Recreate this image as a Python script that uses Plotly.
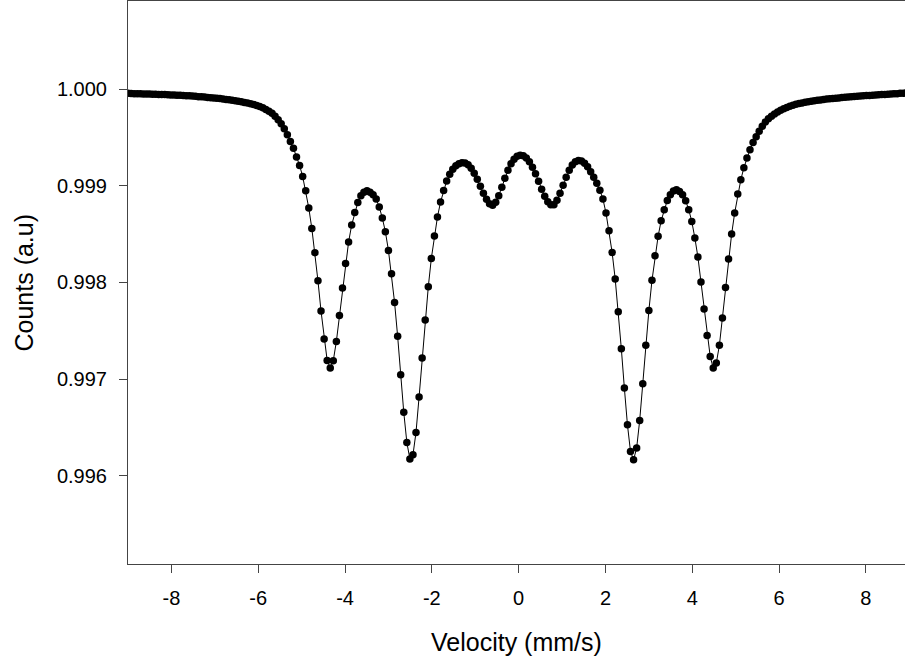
import plotly.graph_objects as go

# Velocity channels (mm/s)
velocity = [
    -9.000, -8.929, -8.859, -8.788, -8.718, -8.647, -8.576, -8.506, -8.435, -8.365, -8.294, -8.224, -8.153, -8.082, -8.012, -7.941, -7.871,
    -7.800, -7.729, -7.659, -7.588, -7.518, -7.447, -7.376, -7.306, -7.235, -7.165, -7.094, -7.024, -6.953, -6.882, -6.812, -6.741, -6.671,
    -6.600, -6.529, -6.459, -6.388, -6.318, -6.247, -6.176, -6.106, -6.035, -5.965, -5.894, -5.824, -5.753, -5.682, -5.612, -5.541, -5.471,
    -5.400, -5.329, -5.259, -5.188, -5.118, -5.047, -4.976, -4.906, -4.835, -4.765, -4.694, -4.624, -4.553, -4.482, -4.412, -4.341, -4.271,
    -4.200, -4.129, -4.059, -3.988, -3.918, -3.847, -3.776, -3.706, -3.635, -3.565, -3.494, -3.424, -3.353, -3.282, -3.212, -3.141, -3.071,
    -3.000, -2.929, -2.859, -2.788, -2.718, -2.647, -2.576, -2.506, -2.435, -2.365, -2.294, -2.224, -2.153, -2.082, -2.012, -1.941, -1.871,
    -1.800, -1.729, -1.659, -1.588, -1.518, -1.447, -1.376, -1.306, -1.235, -1.165, -1.094, -1.024, -0.953, -0.882, -0.812, -0.741, -0.671,
    -0.600, -0.529, -0.459, -0.388, -0.318, -0.247, -0.176, -0.106, -0.035, 0.035, 0.106, 0.176, 0.247, 0.318, 0.388, 0.459, 0.529,
    0.600, 0.671, 0.741, 0.812, 0.882, 0.953, 1.024, 1.094, 1.165, 1.235, 1.306, 1.376, 1.447, 1.518, 1.588, 1.659, 1.729,
    1.800, 1.871, 1.941, 2.012, 2.082, 2.153, 2.224, 2.294, 2.365, 2.435, 2.506, 2.576, 2.647, 2.718, 2.788, 2.859, 2.929,
    3.000, 3.071, 3.141, 3.212, 3.282, 3.353, 3.424, 3.494, 3.565, 3.635, 3.706, 3.776, 3.847, 3.918, 3.988, 4.059, 4.129,
    4.200, 4.271, 4.341, 4.412, 4.482, 4.553, 4.624, 4.694, 4.765, 4.835, 4.906, 4.976, 5.047, 5.118, 5.188, 5.259, 5.329,
    5.400, 5.471, 5.541, 5.612, 5.682, 5.753, 5.824, 5.894, 5.965, 6.035, 6.106, 6.176, 6.247, 6.318, 6.388, 6.459, 6.529,
    6.600, 6.671, 6.741, 6.812, 6.882, 6.953, 7.024, 7.094, 7.165, 7.235, 7.306, 7.376, 7.447, 7.518, 7.588, 7.659, 7.729,
    7.800, 7.871, 7.941, 8.012, 8.082, 8.153, 8.224, 8.294, 8.365, 8.435, 8.506, 8.576, 8.647, 8.718, 8.788, 8.859, 8.929,
    9.000,
]

# Counts (a.u.)
counts = [
    0.999955, 0.999953, 0.999952, 0.999951, 0.999950, 0.999949, 0.999948, 0.999947, 0.999946, 0.999945,
    0.999944, 0.999943, 0.999942, 0.999941, 0.999939, 0.999938, 0.999936, 0.999935, 0.999933, 0.999931,
    0.999929, 0.999927, 0.999925, 0.999921, 0.999919, 0.999916, 0.999913, 0.999910, 0.999907, 0.999904,
    0.999901, 0.999897, 0.999892, 0.999888, 0.999883, 0.999878, 0.999873, 0.999867, 0.999860, 0.999854,
    0.999847, 0.999839, 0.999829, 0.999818, 0.999805, 0.999789, 0.999770, 0.999748, 0.999719, 0.999683,
    0.999641, 0.999589, 0.999527, 0.999458, 0.999386, 0.999297, 0.999210, 0.999096, 0.998948, 0.998769,
    0.998558, 0.998307, 0.998018, 0.997704, 0.997415, 0.997193, 0.997115, 0.997190, 0.997390, 0.997659,
    0.997942, 0.998196, 0.998418, 0.998594, 0.998724, 0.998827, 0.998897, 0.998931, 0.998948, 0.998931,
    0.998907, 0.998862, 0.998780, 0.998666, 0.998524, 0.998331, 0.998090, 0.997793, 0.997442, 0.997045,
    0.996656, 0.996345, 0.996174, 0.996218, 0.996449, 0.996815, 0.997218, 0.997611, 0.997956, 0.998248,
    0.998480, 0.998676, 0.998831, 0.998951, 0.999049, 0.999119, 0.999171, 0.999207, 0.999228, 0.999238,
    0.999235, 0.999217, 0.999181, 0.999129, 0.999067, 0.998995, 0.998922, 0.998860, 0.998814, 0.998798,
    0.998829, 0.998897, 0.998984, 0.999078, 0.999160, 0.999228, 0.999274, 0.999305, 0.999315, 0.999310,
    0.999286, 0.999248, 0.999191, 0.999124, 0.999047, 0.998964, 0.998891, 0.998835, 0.998804, 0.998804,
    0.998850, 0.998922, 0.999005, 0.999088, 0.999160, 0.999214, 0.999248, 0.999261, 0.999255, 0.999233,
    0.999196, 0.999145, 0.999088, 0.999026, 0.998953, 0.998862, 0.998718, 0.998535, 0.998310, 0.998035,
    0.997697, 0.997314, 0.996908, 0.996528, 0.996252, 0.996166, 0.996287, 0.996573, 0.996952, 0.997349,
    0.997710, 0.998021, 0.998276, 0.998476, 0.998638, 0.998752, 0.998848, 0.998907, 0.998945, 0.998959,
    0.998941, 0.998907, 0.998845, 0.998752, 0.998631, 0.998459, 0.998263, 0.998004, 0.997725, 0.997452,
    0.997235, 0.997115, 0.997166, 0.997349, 0.997632, 0.997948, 0.998242, 0.998500, 0.998718, 0.998914,
    0.999062, 0.999186, 0.999286, 0.999372, 0.999448, 0.999507, 0.999564, 0.999615, 0.999659, 0.999693,
    0.999719, 0.999741, 0.999762, 0.999780, 0.999795, 0.999809, 0.999821, 0.999831, 0.999841, 0.999849,
    0.999856, 0.999862, 0.999869, 0.999874, 0.999879, 0.999883, 0.999887, 0.999891, 0.999896, 0.999899,
    0.999902, 0.999905, 0.999908, 0.999911, 0.999914, 0.999917, 0.999919, 0.999922, 0.999925, 0.999927,
    0.999930, 0.999932, 0.999934, 0.999936, 0.999938, 0.999940, 0.999942, 0.999944, 0.999946, 0.999948,
    0.999950, 0.999952, 0.999955, 0.999957, 0.999959, 0.999961,
]

x_ticks = [-8, -6, -4, -2, 0, 2, 4, 6, 8]
x_tick_labels = ["-8", "-6", "-4", "-2", "0", "2", "4", "6", "8"]
y_ticks = [0.996, 0.997, 0.998, 0.999, 1.000]
y_tick_labels = ["0.996", "0.997", "0.998", "0.999", "1.000"]

FONT = "Liberation Sans, Arial, Helvetica, sans-serif"
AXIS_COLOR = "#444444"

fig = go.Figure()
fig.add_trace(go.Scatter(
    x=velocity, y=counts,
    mode="lines+markers",
    line=dict(color="black", width=1),
    marker=dict(color="black", size=7.5, line=dict(width=0)),
    showlegend=False,
))

fig.update_layout(
    width=905, height=667,
    margin=dict(l=128, r=0, t=1, b=103, pad=0),
    paper_bgcolor="white", plot_bgcolor="white",
    font=dict(family=FONT, color="black"),
    xaxis=dict(
        range=[-9, 8.9],
        tickvals=x_ticks, ticktext=x_tick_labels,
        showgrid=False, zeroline=False,
        showline=True, linecolor=AXIS_COLOR, linewidth=1, mirror=True,
        ticks="outside", ticklen=8, tickcolor=AXIS_COLOR, tickwidth=1,
        tickfont=dict(size=20, family=FONT, color="black"),
        ticklabelstandoff=8,
    ),
    yaxis=dict(
        range=[0.995088, 1.000910],
        tickvals=y_ticks, ticktext=y_tick_labels,
        showgrid=False, zeroline=False,
        showline=True, linecolor=AXIS_COLOR, linewidth=1, mirror=False,
        ticks="outside", ticklen=8, tickcolor=AXIS_COLOR, tickwidth=1,
        tickfont=dict(size=20, family=FONT, color="black"),
        ticklabelstandoff=8,
    ),
    annotations=[
        dict(text="Velocity (mm/s)", xref="paper", yref="paper",
             x=0.50, y=-0.138, xanchor="center", yanchor="middle",
             showarrow=False, font=dict(size=25, family=FONT, color="black")),
        dict(text="Counts (a.u)", xref="paper", yref="paper",
             x=-0.1351, y=0.5, xanchor="center", yanchor="middle", textangle=-90,
             showarrow=False, font=dict(size=25, family=FONT, color="black")),
    ],
)

fig.write_html("out.html", config={"displayModeBar": False})
